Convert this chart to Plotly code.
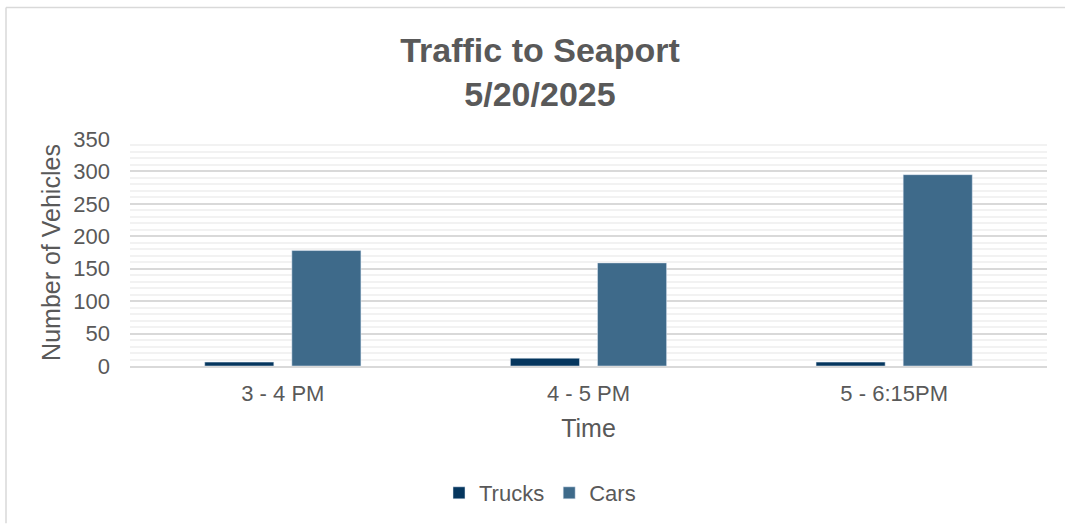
import plotly.graph_objects as go

categories = ["3 - 4 PM", "4 - 5 PM", "5 - 6:15PM"]
trucks = [6, 12, 6]
cars = [178, 159, 295]
y_ticks = [0, 50, 100, 150, 200, 250, 300, 350]

W, H = 1065, 525
L, R, T, B = 130, 18, 139, 158
pw, ph = W - L - R, H - T - B

def px_x(p):
    return (p - L) / pw

def px_y(p):
    return (H - B - p) / ph

fig = go.Figure()
fig.add_trace(go.Bar(name="Trucks", x=categories, y=trucks, marker_color="#05365E"))
fig.add_trace(go.Bar(name="Cars", x=categories, y=cars, marker_color="#3E6A8A"))

fig.update_layout(
    width=W, height=H,
    margin=dict(l=L, r=R, t=T, b=B),
    paper_bgcolor="white", plot_bgcolor="white",
    barmode="group", bargap=0.43, bargroupgap=0.207,
    font=dict(family="Arial, Liberation Sans, sans-serif", color="#595959"),
    title=dict(text="<b>Traffic to Seaport<br>5/20/2025</b>", xref="container",
               x=540 / W, xanchor="center",
               y=1 - 62 / H, yanchor="top",
               font=dict(size=34, color="#595959")),
    legend=dict(orientation="h", x=px_x(540), xanchor="center", y=px_y(493), yanchor="middle",
                font=dict(size=22, color="#595959"), itemwidth=30, traceorder="normal"),
    showlegend=True,
)
fig.update_xaxes(
    title=dict(text="Time", font=dict(size=25, color="#595959"), standoff=14),
    tickfont=dict(size=22, color="#595959"),
    showline=True, linecolor="#D9D9D9", linewidth=1.5,
    showgrid=False, ticks="", ticklabelstandoff=7,
)
fig.update_yaxes(
    title=dict(text="Number of Vehicles", font=dict(size=25, color="#595959"), standoff=5),
    tickfont=dict(size=22, color="#595959"),
    range=[0, 350], tickvals=y_ticks,
    showgrid=True, gridcolor="#D9D9D9", gridwidth=1.5,
    zeroline=False, ticks="", ticklabelstandoff=19,
    minor=dict(dtick=10, showgrid=True, gridcolor="#F2F2F2", gridwidth=1.5),
)

# chart area border (top and left edges visible)
fig.add_shape(type="line", xref="paper", yref="paper",
              x0=px_x(6), x1=px_x(1065), y0=px_y(7), y1=px_y(7),
              line=dict(color="#D9D9D9", width=1.5))
fig.add_shape(type="line", xref="paper", yref="paper",
              x0=px_x(6), x1=px_x(6), y0=px_y(7), y1=px_y(525),
              line=dict(color="#D9D9D9", width=1.5))

fig.write_html("out.html", config={"displayModeBar": False},
               post_script="document.body.style.margin='0';")
